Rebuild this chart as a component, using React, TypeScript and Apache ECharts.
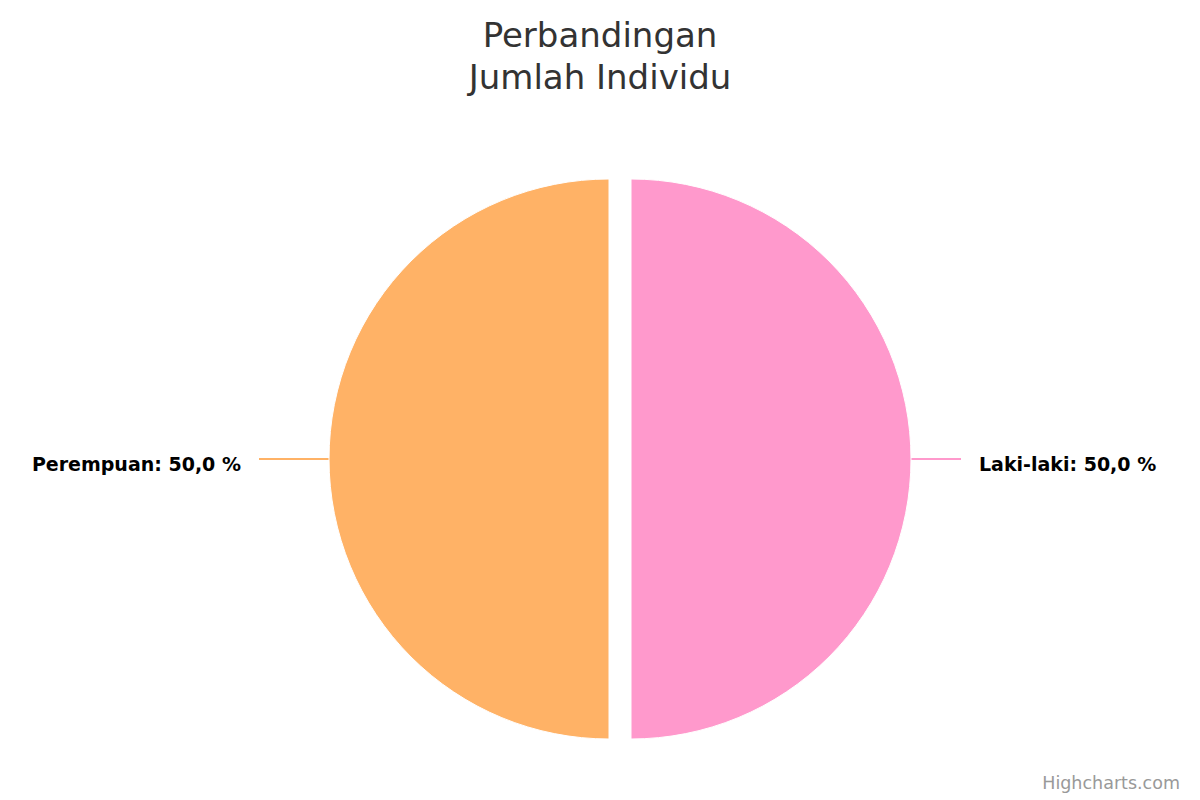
import React, { useEffect, useRef } from "react";
import * as echarts from "echarts";

const categories = ["Laki-laki", "Perempuan"];
const values = [50, 50];
const colors = ["#FF99CC", "#FFB266"];
const titleLines = ["Perbandingan", "Jumlah Individu"];
const creditText = "Highcharts.com";

export default function App() {
  const ref = useRef<HTMLDivElement>(null);
  useEffect(() => {
    if (!ref.current) return;
    const chart = echarts.init(ref.current, undefined, { renderer: "svg" });
    const total = values.reduce((a, b) => a + b, 0);
    const lineLens = [
      { length: 25, length2: 25 },
      { length: 35, length2: 35 },
    ];
    const labelFont = {
      fontFamily: "DejaVu Sans",
      fontSize: 19,
      fontWeight: "bold",
      color: "#000000",
    };
    chart.setOption({
      animation: false,
      backgroundColor: "#ffffff",
      title: {
        text: titleLines.join("\n"),
        left: "center",
        top: 9,
        textStyle: {
          fontFamily: "DejaVu Sans",
          fontSize: 34,
          fontWeight: "normal",
          color: "#333333",
          lineHeight: 42,
        },
      },
      graphic: [
        {
          type: "text",
          right: 20,
          bottom: 8,
          style: {
            text: creditText,
            fontFamily: "DejaVu Sans",
            fontSize: 17.5,
            fill: "#999999",
          },
        },
      ],
      series: [
        {
          type: "pie",
          center: [620, 459],
          radius: 280,
          startAngle: 90,
          clockwise: true,
          avoidLabelOverlap: false,
          selectedMode: "multiple",
          selectedOffset: 11,
          itemStyle: { borderColor: "#ffffff", borderWidth: 1 },
          emphasis: { disabled: true },
          label: {
            show: true,
            formatter: (p: any) =>
              `{t|${p.name}: ${((p.value / total) * 100).toFixed(1).replace(".", ",")} %}`,
            ...labelFont,
            distanceToLabelLine: 18,
            rich: {
              t: { ...labelFont, padding: [9, 0, 0, 0] },
            },
          },
          labelLine: { show: true, smooth: false, lineStyle: { width: 2 } },
          data: categories.map((c, i) => ({
            name: c,
            value: values[i],
            selected: true,
            itemStyle: { color: colors[i] },
            labelLine: { ...lineLens[i], lineStyle: { color: colors[i], width: 2 } },
          })),
        },
      ],
    });
    return () => chart.dispose();
  }, []);
  return (
    <div
      ref={ref}
      style={{ position: "fixed", left: 0, top: 0, width: 1200, height: 800 }}
    />
  );
}
